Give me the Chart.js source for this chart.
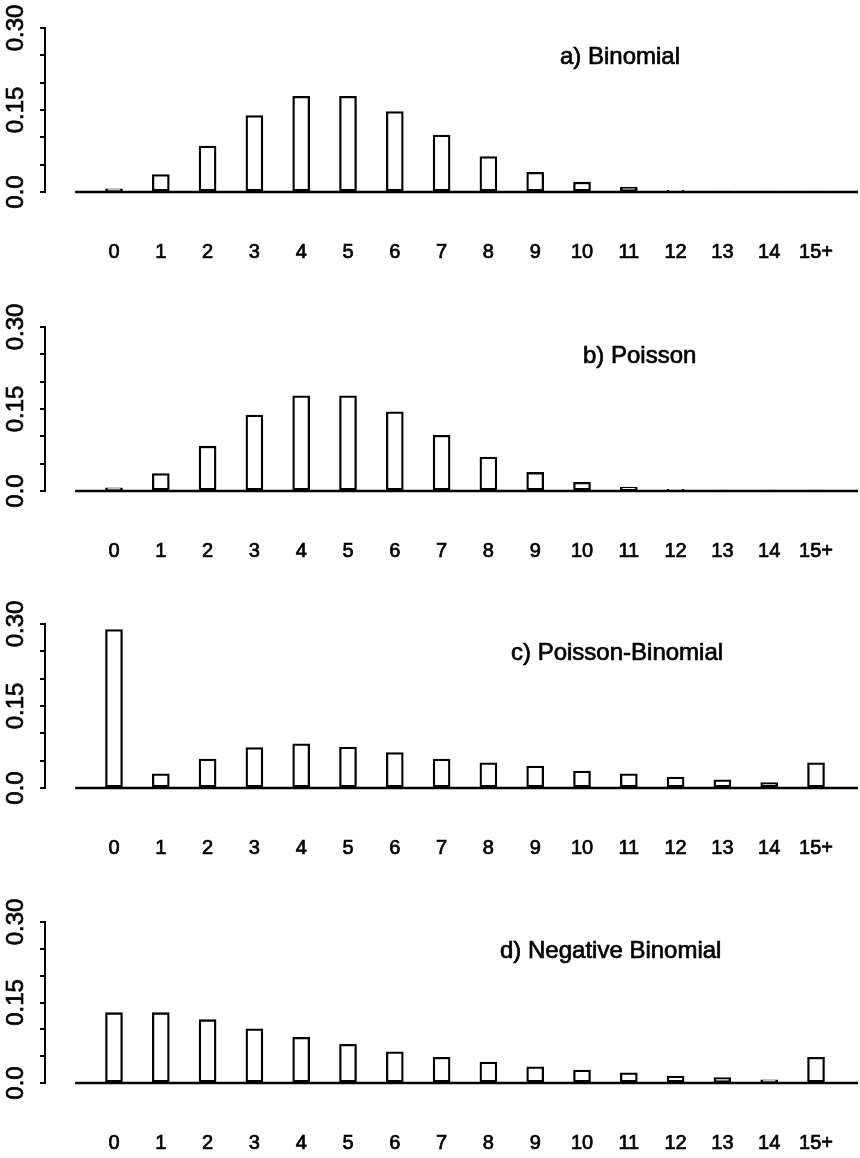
<!DOCTYPE html>
<html>
<head>
<meta charset="utf-8">
<script src="https://cdn.jsdelivr.net/npm/chart.js@4/dist/chart.umd.min.js"></script>
<style>
  html, body { margin: 0; padding: 0; background: #fff; overflow: hidden; }
  .panel { position: absolute; left: 0; width: 860px; height: 264px; }
</style>
</head>
<body>
<div class="panel" style="top:0px"><canvas id="Binomial"></canvas></div>
<div class="panel" style="top:299px"><canvas id="Poisson"></canvas></div>
<div class="panel" style="top:596px"><canvas id="PoissonBinomial"></canvas></div>
<div class="panel" style="top:894px;height:261px"><canvas id="NegBinomial"></canvas></div>
<script>
// counts 0..14 and the pooled 15+ class
const categories = ['0', '1', '2', '3', '4', '5', '6', '7', '8', '9', '10', '11', '12', '13', '14', '15+'];

const binomial = [0.006, 0.032, 0.084, 0.140, 0.175, 0.175, 0.147, 0.104, 0.065, 0.036, 0.018, 0.009, 0.003, 0.001, 0.0007, 0.0003];
const poisson = [0.006, 0.032, 0.082, 0.139, 0.174, 0.174, 0.145, 0.102, 0.062, 0.034, 0.016, 0.007, 0.003, 0.001, 0.0005, 0.0002];
const poissonBinomial = [0.290, 0.026, 0.053, 0.074, 0.081, 0.075, 0.065, 0.053, 0.046, 0.040, 0.031, 0.026, 0.020, 0.015, 0.010, 0.046];
const negBinomial = [0.131, 0.131, 0.118, 0.101, 0.085, 0.072, 0.058, 0.048, 0.039, 0.030, 0.024, 0.019, 0.013, 0.010, 0.006, 0.048];

const yTicks = [0, 0.05, 0.10, 0.15, 0.20, 0.25, 0.30];
const yTickLabels = ['0.0', '', '', '0.15', '', '', '0.30'];

const FONT = '"Liberation Sans", Arial, Helvetica, sans-serif';

// horizontal line at zero, starting a little right of the y axis
const baseline = {
    id: 'baseline',
    afterDatasetsDraw(chart, args, opts) {
        const { ctx, chartArea, scales: { x, y } } = chart;
        const py = y.getPixelForValue(0);
        ctx.save();
        ctx.strokeStyle = '#000';
        ctx.lineWidth = 2.5;
        ctx.beginPath();
        ctx.moveTo(x.getPixelForValue(opts.from), py);
        ctx.lineTo(chartArea.right, py);
        ctx.stroke();
        ctx.restore();
    }
};

// panel caption drawn inside the plot
const panelTitle = {
    id: 'panelTitle',
    afterDraw(chart, args, opts) {
        const { ctx, chartArea } = chart;
        ctx.save();
        ctx.font = '24px ' + FONT;
        ctx.fillStyle = '#000';
        ctx.strokeStyle = '#000';
        ctx.lineWidth = 0.7;
        ctx.textAlign = 'left';
        ctx.textBaseline = 'middle';
        ctx.fillText(opts.text, opts.left, chartArea.top + opts.dy);
        ctx.strokeText(opts.text, opts.left, chartArea.top + opts.dy);
        ctx.restore();
    }
};

// stop the scales from shrinking the plot to make room for edge labels
const noPad = s => { s.paddingLeft = 0; s.paddingRight = 0; s.paddingTop = 0; s.paddingBottom = 0; };

function makePanel(id, values, title, titleLeft) {
    new Chart(document.getElementById(id), {
        type: 'bar',
        data: {
            datasets: [{
                data: values.map((v, i) => ({ x: i, y: v })),
                backgroundColor: '#fff',
                borderColor: '#000',
                borderWidth: 2.3,
                borderSkipped: false,
                barThickness: 17
            }]
        },
        options: {
            responsive: true,
            maintainAspectRatio: false,
            animation: false,
            layout: { autoPadding: false, padding: { top: 28, right: 2, bottom: 0, left: 0 } },
            plugins: {
                legend: { display: false },
                tooltip: { enabled: false },
                baseline: { from: -0.83 },
                panelTitle: { text: title, left: titleLeft, dy: 29 }
            },
            scales: {
                x: {
                    type: 'linear',
                    offset: false,
                    min: -1.474,
                    max: 15.897,
                    afterBuildTicks: s => { s.ticks = categories.map((c, i) => ({ value: i })); },
                    afterFit: s => { noPad(s); s.height = 72; },
                    grid: { display: false, drawTicks: false },
                    border: { display: false },
                    ticks: {
                        autoSkip: false,
                        maxRotation: 0,
                        minRotation: 0,
                        padding: 48,
                        color: '#000',
                        textStrokeColor: '#000',
                        textStrokeWidth: 0.7,
                        font: { family: FONT, size: 20 },
                        callback: (v, i) => categories[i]
                    }
                },
                y: {
                    min: 0,
                    max: 0.30,
                    afterBuildTicks: s => { s.ticks = yTicks.map(v => ({ value: v })); },
                    afterFit: s => { noPad(s); s.width = 45; },
                    grid: { drawOnChartArea: false, drawTicks: true, tickLength: 5, color: '#000', lineWidth: 2 },
                    border: { display: true, color: '#000', width: 2 },
                    ticks: {
                        autoSkip: false,
                        minRotation: 90,
                        maxRotation: 90,
                        crossAlign: 'center',
                        padding: 0,
                        color: '#000',
                        textStrokeColor: '#000',
                        textStrokeWidth: 0.7,
                        font: { family: FONT, size: 24 },
                        callback: (v, i) => yTickLabels[i]
                    }
                }
            }
        },
        plugins: [baseline, panelTitle]
    });
}

makePanel('Binomial', binomial, 'a) Binomial', 560);
makePanel('Poisson', poisson, 'b) Poisson', 583);
makePanel('PoissonBinomial', poissonBinomial, 'c) Poisson-Binomial', 511);
makePanel('NegBinomial', negBinomial, 'd) Negative Binomial', 500);
</script>
</body>
</html>
